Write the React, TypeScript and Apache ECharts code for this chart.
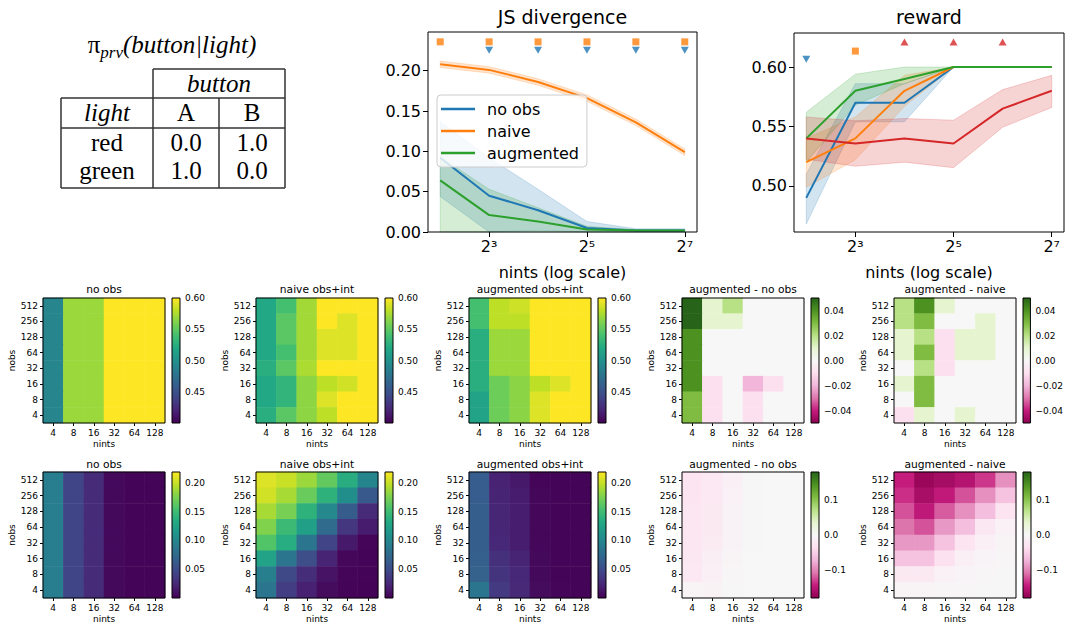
import React, { useEffect, useRef } from "react";
import * as echarts from "echarts";

const FONT = "DejaVu Sans";
const SERIF = "Liberation Serif";

// ---------- shared categories ----------
const nints = [4, 8, 16, 32, 64, 128];
const nintsLabels = ["4", "8", "16", "32", "64", "128"];
const nobsLabels = ["4", "8", "16", "32", "64", "128", "256", "512"];
const logTicks = [8, 32, 128];

// ---------- JS divergence (line plot) ----------
const jsNoObs = [0.092, 0.045, 0.027, 0.005, 0.002, 0.002];
const jsNoObsLo = [0.044, 0.0, 0.002, 0.0, 0.0, 0.0];
const jsNoObsHi = [0.137, 0.092, 0.053, 0.013, 0.004, 0.004];
const jsNaive = [0.208, 0.201, 0.186, 0.166, 0.136, 0.099];
const jsNaiveLo = [0.204, 0.197, 0.182, 0.162, 0.132, 0.095];
const jsNaiveHi = [0.212, 0.205, 0.19, 0.17, 0.14, 0.103];
const jsAug = [0.064, 0.021, 0.013, 0.003, 0.002, 0.002];
const jsAugLo = [0.0, 0.0, 0.0, 0.0, 0.0, 0.0];
const jsAugHi = [0.093, 0.053, 0.03, 0.007, 0.003, 0.003];
const jsNaiveMarkX = [4, 8, 16, 32, 64, 128];
const jsNaiveMarkY = 0.2358;
const jsNoObsMarkX = [8, 16, 32, 64, 128];
const jsNoObsMarkY = 0.2255;
const jsYTicks = [0, 0.05, 0.1, 0.15, 0.2];

// ---------- reward (line plot) ----------
const rwNoObs = [0.49, 0.57, 0.57, 0.6, 0.6, 0.6];
const rwNoObsLo = [0.468, 0.554, 0.554, 0.6, 0.6, 0.6];
const rwNoObsHi = [0.51, 0.586, 0.586, 0.6, 0.6, 0.6];
const rwNaive = [0.52, 0.54, 0.58, 0.6, 0.6, 0.6];
const rwNaiveLo = [0.499, 0.522, 0.567, 0.6, 0.6, 0.6];
const rwNaiveHi = [0.54, 0.558, 0.593, 0.6, 0.6, 0.6];
const rwAug = [0.54, 0.58, 0.59, 0.6, 0.6, 0.6];
const rwAugLo = [0.52, 0.568, 0.586, 0.6, 0.6, 0.6];
const rwAugHi = [0.562, 0.594, 0.6, 0.6, 0.6, 0.6];
const rwRef = [0.54, 0.5357, 0.54, 0.5357, 0.565, 0.58];
const rwRefLo = [0.5225, 0.5166, 0.52, 0.5154, 0.5494, 0.566];
const rwRefHi = [0.558, 0.5548, 0.5567, 0.5553, 0.581, 0.593];
const rwNoObsMarkX = [4];
const rwNoObsMarkY = 0.6065;
const rwNaiveMarkX = [8];
const rwNaiveMarkY = 0.6134;
const rwRefMarkX = [16, 32, 64];
const rwRefMarkY = 0.621;
const rwYTicks = [0.5, 0.55, 0.6];

// ---------- heatmaps: rows listed top (nobs 512) to bottom (nobs 4), columns nints 4..128 ----------
const rewardNoObs = [
  [0.49, 0.57, 0.57, 0.6, 0.6, 0.6],
  [0.49, 0.57, 0.57, 0.6, 0.6, 0.6],
  [0.49, 0.57, 0.57, 0.6, 0.6, 0.6],
  [0.49, 0.57, 0.57, 0.6, 0.6, 0.6],
  [0.49, 0.57, 0.57, 0.6, 0.6, 0.6],
  [0.49, 0.57, 0.57, 0.6, 0.6, 0.6],
  [0.49, 0.57, 0.57, 0.6, 0.6, 0.6],
  [0.49, 0.57, 0.57, 0.6, 0.6, 0.6],
];
const rewardNaive = [
  [0.52, 0.54, 0.572, 0.6, 0.6, 0.6],
  [0.52, 0.548, 0.572, 0.6, 0.59, 0.6],
  [0.52, 0.548, 0.572, 0.59, 0.59, 0.6],
  [0.52, 0.54, 0.572, 0.59, 0.59, 0.6],
  [0.525, 0.548, 0.575, 0.6, 0.6, 0.6],
  [0.52, 0.53, 0.566, 0.58, 0.586, 0.6],
  [0.52, 0.53, 0.566, 0.59, 0.6, 0.6],
  [0.525, 0.548, 0.566, 0.58, 0.6, 0.6],
];
const rewardAug = [
  [0.54, 0.58, 0.585, 0.6, 0.6, 0.6],
  [0.54, 0.58, 0.58, 0.6, 0.6, 0.6],
  [0.525, 0.57, 0.57, 0.6, 0.6, 0.6],
  [0.525, 0.57, 0.57, 0.6, 0.6, 0.6],
  [0.525, 0.57, 0.57, 0.6, 0.6, 0.6],
  [0.525, 0.555, 0.565, 0.58, 0.59, 0.6],
  [0.515, 0.555, 0.565, 0.59, 0.6, 0.6],
  [0.515, 0.555, 0.565, 0.59, 0.6, 0.6],
];
const rewardAugMinusNoObs = [
  [0.05, 0.01, 0.02, 0, 0, 0],
  [0.05, 0.01, 0.01, 0, 0, 0],
  [0.04, 0, 0, 0, 0, 0],
  [0.04, 0, 0, 0, 0, 0],
  [0.04, 0, 0, 0, 0, 0],
  [0.04, -0.01, 0, -0.02, -0.01, 0],
  [0.03, -0.01, 0, -0.01, 0, 0],
  [0.03, -0.01, 0, -0.01, 0, 0],
];
const rewardAugMinusNaive = [
  [0.02, 0.04, 0.01, 0, 0, 0],
  [0.02, 0.03, 0, 0, 0.01, 0],
  [0.01, 0.02, -0.01, 0.01, 0.01, 0],
  [0.01, 0.03, -0.01, 0.01, 0.01, 0],
  [0, 0.02, -0.01, 0, 0, 0],
  [0.01, 0.03, 0, 0, 0, 0],
  [0, 0.03, 0, 0, 0, 0],
  [-0.01, 0.01, 0, 0.01, 0, 0],
];
const jsHmNoObs = [
  [0.092, 0.045, 0.027, 0.005, 0.002, 0.002],
  [0.092, 0.045, 0.027, 0.005, 0.002, 0.002],
  [0.092, 0.045, 0.027, 0.005, 0.002, 0.002],
  [0.092, 0.045, 0.027, 0.005, 0.002, 0.002],
  [0.092, 0.045, 0.027, 0.005, 0.002, 0.002],
  [0.092, 0.045, 0.027, 0.005, 0.002, 0.002],
  [0.092, 0.045, 0.027, 0.005, 0.002, 0.002],
  [0.092, 0.045, 0.027, 0.005, 0.002, 0.002],
];
const jsHmNaive = [
  [0.208, 0.201, 0.186, 0.166, 0.136, 0.099],
  [0.204, 0.19, 0.168, 0.14, 0.107, 0.061],
  [0.19, 0.174, 0.14, 0.102, 0.063, 0.026],
  [0.177, 0.148, 0.124, 0.076, 0.035, 0.017],
  [0.159, 0.135, 0.085, 0.044, 0.015, 0.003],
  [0.126, 0.085, 0.052, 0.022, 0.004, 0.002],
  [0.094, 0.048, 0.028, 0.011, 0.003, 0.002],
  [0.085, 0.039, 0.02, 0.006, 0.002, 0.001],
];
const jsHmAug = [
  [0.064, 0.021, 0.015, 0.003, 0.002, 0.002],
  [0.064, 0.022, 0.017, 0.004, 0.002, 0.002],
  [0.065, 0.023, 0.018, 0.004, 0.002, 0.002],
  [0.065, 0.023, 0.018, 0.004, 0.002, 0.002],
  [0.065, 0.024, 0.018, 0.004, 0.002, 0.002],
  [0.066, 0.03, 0.022, 0.005, 0.002, 0.002],
  [0.068, 0.033, 0.024, 0.005, 0.002, 0.002],
  [0.085, 0.037, 0.025, 0.006, 0.003, 0.002],
];
const jsHmAugMinusNoObs = [
  [-0.028, -0.024, -0.012, -0.002, 0, 0],
  [-0.028, -0.023, -0.01, -0.001, 0, 0],
  [-0.027, -0.022, -0.009, -0.001, 0, 0],
  [-0.027, -0.022, -0.009, -0.001, 0, 0],
  [-0.027, -0.021, -0.009, -0.001, 0, 0],
  [-0.026, -0.015, -0.005, 0, 0, 0],
  [-0.024, -0.012, -0.003, 0, 0, 0],
  [-0.007, -0.008, -0.002, 0, 0, 0],
];
const jsHmAugMinusNaive = [
  [-0.146, -0.175, -0.167, -0.157, -0.135, -0.095],
  [-0.138, -0.164, -0.149, -0.124, -0.095, -0.062],
  [-0.124, -0.15, -0.12, -0.095, -0.065, -0.03],
  [-0.11, -0.124, -0.09, -0.065, -0.025, -0.01],
  [-0.09, -0.09, -0.062, -0.03, -0.012, -0.004],
  [-0.062, -0.062, -0.033, -0.012, -0.006, -0.003],
  [-0.022, -0.022, -0.01, -0.006, -0.003, -0.002],
  [-0.007, -0.007, -0.003, -0.003, -0.002, -0.001],
];
const hmTitles = ["no obs", "naive obs+int", "augmented obs+int", "augmented - no obs", "augmented - naive"];

// colour bar scales
const rwSeqTicks = [0.45, 0.5, 0.55, 0.6];
const rwDivTicks = [-0.04, -0.02, 0, 0.02, 0.04];
const jsSeqTicks = [0.05, 0.1, 0.15, 0.2];
const jsDivTicks = [-0.1, 0, 0.1];

// table
const tableCols = ["A", "B"];
const tableRows = ["red", "green"];
const tableVals = [
  ["0.0", "1.0"],
  ["1.0", "0.0"],
];

const VIRIDIS = ["#440154", "#482475", "#414487", "#355f8d", "#2a788e", "#21918c", "#22a884", "#44bf70", "#7ad151", "#bddf26", "#fde725"];
const PIYG = ["#8e0152", "#c51b7d", "#de77ae", "#f1b6da", "#fde0ef", "#f7f7f7", "#e6f5d0", "#b8e186", "#7fbc41", "#4d9221", "#276419"];

const C_BLUE = "#1f77b4";
const C_ORANGE = "#ff7f0e";
const C_GREEN = "#2ca02c";
const C_RED = "#d62728";

function rgba(hex: string, a: number) {
  const n = parseInt(hex.slice(1), 16);
  return `rgba(${(n >> 16) & 255},${(n >> 8) & 255},${n & 255},${a})`;
}
function fmt(v: number, d: number) {
  const s = Math.abs(v).toFixed(d);
  return (v < -1e-12 ? "\u2212" : "") + s;
}
const SUP: Record<number, string> = { 2: "\u00b2", 3: "\u00b3", 4: "\u2074", 5: "\u2075", 6: "\u2076", 7: "\u2077" };

function buildOption() {
  const grid: any[] = [];
  const xAxis: any[] = [];
  const yAxis: any[] = [];
  const series: any[] = [];
  const graphic: any[] = [];

  // ---- line plots ----
  const linePanels = [
    { left: 428, top: 32, width: 269, height: 200, ymin: 0, ymax: 0.248, ticks: jsYTicks, title: "JS divergence" },
    { left: 794, top: 33, width: 270, height: 199, ymin: 0.4613, ymax: 0.6286, ticks: rwYTicks, title: "reward" },
  ];
  linePanels.forEach((p, i) => {
    grid.push({ left: p.left, top: p.top, width: p.width, height: p.height, show: true, borderColor: "#000", borderWidth: 1, z: 6, backgroundColor: "transparent" });
    xAxis.push({
      type: "log", logBase: 2, gridIndex: i, min: Math.pow(2, 1.75), max: Math.pow(2, 7.25),
      axisLine: { show: false },
      axisTick: { show: true, customValues: logTicks, length: 5, lineStyle: { color: "#000", width: 1 } },
      axisLabel: {
        customValues: logTicks, fontSize: 16, color: "#000", fontFamily: FONT, margin: 6,
        formatter: (v: number) => "2" + (SUP[Math.round(Math.log2(v))] || ""),
      },
      minorTick: { show: false }, splitLine: { show: false },
      name: "nints (log scale)", nameLocation: "middle", nameGap: 32,
      nameTextStyle: { fontSize: 16, color: "#000", fontFamily: FONT },
    });
    yAxis.push({
      type: "value", gridIndex: i, min: p.ymin, max: p.ymax,
      axisLine: { show: false },
      axisTick: { show: true, customValues: p.ticks, length: 5, lineStyle: { color: "#000", width: 1 } },
      axisLabel: { customValues: p.ticks, fontSize: 16, color: "#000", fontFamily: FONT, margin: 7, formatter: (v: number) => v.toFixed(2) },
      splitLine: { show: false },
    });
    graphic.push({
      type: "text", x: p.left + p.width / 2, y: 17, z: 100,
      style: { text: p.title, fontSize: 19, fontFamily: FONT, fill: "#000", align: "center", verticalAlign: "middle" },
    });
  });

  const band = (ax: number, lo: number[], hi: number[], color: string) => ({
    type: "custom", xAxisIndex: ax, yAxisIndex: ax, z: 1, silent: true,
    data: nints.map((x, i) => [x, lo[i], hi[i]]),
    encode: { x: 0, y: [1, 2] },
    itemStyle: { color },
    renderItem: (params: any, api: any) => {
      if (params.dataIndex !== 0) return null;
      const top = nints.map((x, i) => api.coord([x, hi[i]]));
      const bot = nints.map((x, i) => api.coord([x, lo[i]])).reverse();
      return {
        type: "polygon",
        shape: { points: top.concat(bot) },
        style: { fill: rgba(color, 0.2), stroke: rgba(color, 0.2), lineWidth: 1 },
      };
    },
  });
  const line = (ax: number, name: string, ys: number[], color: string) => ({
    type: "line", name, xAxisIndex: ax, yAxisIndex: ax, z: 3, silent: true,
    data: nints.map((x, i) => [x, ys[i]]),
    symbol: "none", showSymbol: false,
    lineStyle: { color, width: 2 }, itemStyle: { color },
  });
  const marks = (ax: number, xs: number[], y: number, color: string, kind: "square" | "down" | "up") => ({
    type: "scatter", xAxisIndex: ax, yAxisIndex: ax, z: 4, silent: true,
    data: xs.map((x) => [x, y]),
    symbol: kind === "square" ? "rect" : "triangle",
    symbolRotate: kind === "down" ? 180 : 0,
    symbolSize: kind === "square" ? 7 : [8, 7],
    itemStyle: { color },
  });

  series.push(band(0, jsNoObsLo, jsNoObsHi, C_BLUE));
  series.push(band(0, jsNaiveLo, jsNaiveHi, C_ORANGE));
  series.push(band(0, jsAugLo, jsAugHi, C_GREEN));
  series.push(line(0, "no obs", jsNoObs, C_BLUE));
  series.push(line(0, "naive", jsNaive, C_ORANGE));
  series.push(line(0, "augmented", jsAug, C_GREEN));
  series.push(marks(0, jsNaiveMarkX, jsNaiveMarkY, C_ORANGE, "square"));
  series.push(marks(0, jsNoObsMarkX, jsNoObsMarkY, C_BLUE, "down"));

  series.push(band(1, rwNoObsLo, rwNoObsHi, C_BLUE));
  series.push(band(1, rwNaiveLo, rwNaiveHi, C_ORANGE));
  series.push(band(1, rwAugLo, rwAugHi, C_GREEN));
  series.push(band(1, rwRefLo, rwRefHi, C_RED));
  series.push(line(1, "no obs", rwNoObs, C_BLUE));
  series.push(line(1, "naive", rwNaive, C_ORANGE));
  series.push(line(1, "augmented", rwAug, C_GREEN));
  series.push(line(1, "reference", rwRef, C_RED));
  series.push(marks(1, rwNoObsMarkX, rwNoObsMarkY, C_BLUE, "down"));
  series.push(marks(1, rwNaiveMarkX, rwNaiveMarkY, C_ORANGE, "square"));
  series.push(marks(1, rwRefMarkX, rwRefMarkY, C_RED, "up"));

  // ---- heatmaps ----
  const hmLefts = [43, 256, 469, 682, 894];
  const rowTops = [298, 472];
  const rowHeights = [125, 126];
  const rowTitleY = [289, 464];
  const mats = [
    [rewardNoObs, rewardNaive, rewardAug, rewardAugMinusNoObs, rewardAugMinusNaive],
    [jsHmNoObs, jsHmNaive, jsHmAug, jsHmAugMinusNoObs, jsHmAugMinusNaive],
  ];
  const scales = [
    [
      { cmap: VIRIDIS, min: 0.4, max: 0.6, ticks: rwSeqTicks, dec: 2 },
      { cmap: PIYG, min: -0.05, max: 0.05, ticks: rwDivTicks, dec: 2 },
    ],
    [
      { cmap: VIRIDIS, min: 0.0, max: 0.219, ticks: jsSeqTicks, dec: 2 },
      { cmap: PIYG, min: -0.182, max: 0.182, ticks: jsDivTicks, dec: 1 },
    ],
  ];
  const vmSeries: number[][] = [[], [], [], []];

  for (let r = 0; r < 2; r++) {
    for (let c = 0; c < 5; c++) {
      const sc = scales[r][c < 3 ? 0 : 1];
      const left = hmLefts[c];
      const top = rowTops[r];
      const h = rowHeights[r];
      // heatmap grid
      const gi = grid.length;
      grid.push({ left, top, width: 122, height: h, show: true, borderColor: "#000", borderWidth: 1, z: 6, backgroundColor: "transparent" });
      xAxis.push({
        type: "category", gridIndex: gi, data: nintsLabels,
        axisLine: { show: false },
        axisTick: { show: true, alignWithLabel: true, length: 3, lineStyle: { color: "#000" } },
        axisLabel: { interval: 0, fontSize: 9, color: "#000", fontFamily: FONT, margin: 5 },
        splitLine: { show: false },
        name: "nints", nameLocation: "middle", nameGap: 16,
        nameTextStyle: { fontSize: 9, color: "#000", fontFamily: FONT },
      });
      yAxis.push({
        type: "category", gridIndex: gi, data: nobsLabels,
        axisLine: { show: false },
        axisTick: { show: true, alignWithLabel: true, length: 3, lineStyle: { color: "#000" } },
        axisLabel: { interval: 0, fontSize: 9, color: "#000", fontFamily: FONT, margin: 5 },
        splitLine: { show: false },
        name: "nobs", nameLocation: "middle", nameGap: 25, nameRotate: 90,
        nameTextStyle: { fontSize: 9, color: "#000", fontFamily: FONT },
      });
      const m = mats[r][c];
      const data: number[][] = [];
      m.forEach((row, ri) => row.forEach((v, ci) => data.push([ci, nobsLabels.length - 1 - ri, v])));
      vmSeries[r * 2 + (c < 3 ? 0 : 1)].push(series.length);
      series.push({
        type: "heatmap", xAxisIndex: gi, yAxisIndex: gi, data, silent: true, z: 2,
        emphasis: { disabled: true }, itemStyle: { borderWidth: 0 },
      });
      graphic.push({
        type: "text", x: left + 61, y: rowTitleY[r], z: 100,
        style: { text: hmTitles[c], fontSize: 10.7, fontFamily: FONT, fill: "#000", align: "center", verticalAlign: "middle" },
      });

      // colour bar
      const ci2 = grid.length;
      grid.push({ left: left + 129, top, width: 8, height: h, show: true, borderColor: "#000", borderWidth: 1, z: 6, backgroundColor: "transparent" });
      xAxis.push({ type: "value", gridIndex: ci2, min: 0, max: 1, show: false });
      yAxis.push({
        type: "value", gridIndex: ci2, min: sc.min, max: sc.max, position: "right",
        axisLine: { show: false },
        axisTick: { show: true, customValues: sc.ticks, length: 3, lineStyle: { color: "#000" } },
        axisLabel: { customValues: sc.ticks, fontSize: 9, color: "#000", fontFamily: FONT, margin: 5, formatter: (v: number) => fmt(v, sc.dec) },
        splitLine: { show: false },
      });
      const stops = sc.cmap.map((col, k) => ({ offset: 1 - k / (sc.cmap.length - 1), color: col })).reverse();
      series.push({
        type: "custom", xAxisIndex: ci2, yAxisIndex: ci2, silent: true, z: 2,
        data: [[0, sc.min, 1, sc.max]],
        encode: { x: [0, 2], y: [1, 3] },
        renderItem: (params: any, api: any) => {
          const p0 = api.coord([0, sc.max]);
          const p1 = api.coord([1, sc.min]);
          return {
            type: "rect",
            shape: { x: p0[0], y: p0[1], width: p1[0] - p0[0], height: p1[1] - p0[1] },
            style: { fill: { type: "linear", x: 0, y: 0, x2: 0, y2: 1, colorStops: stops } },
          };
        },
      });
    }
  }

  const visualMap = [0, 1, 2, 3].map((k) => {
    const sc = scales[Math.floor(k / 2)][k % 2];
    return {
      type: "continuous", show: false, min: sc.min, max: sc.max, dimension: 2,
      seriesIndex: vmSeries[k], inRange: { color: sc.cmap },
    };
  });

  // ---- table ----
  const lineStyle = { stroke: "#333", lineWidth: 1.5 };
  const seg = (x1: number, y1: number, x2: number, y2: number) => ({ type: "line", z: 100, shape: { x1, y1, x2, y2 }, style: lineStyle });
  graphic.push(seg(153, 69, 285, 69));
  graphic.push(seg(61, 98, 285, 98));
  graphic.push(seg(61, 128, 285, 128));
  graphic.push(seg(61, 188, 285, 188));
  graphic.push(seg(153, 69, 153, 188));
  graphic.push(seg(285, 69, 285, 188));
  graphic.push(seg(61, 98, 61, 188));
  graphic.push(seg(219, 98, 219, 188));
  const tText = (text: string, x: number, y: number, italic = false) => ({
    type: "text", x, y, z: 100,
    style: { text, fontSize: 25, fontFamily: SERIF, fontStyle: italic ? "italic" : "normal", fill: "#000", align: "center", verticalAlign: "middle" },
  });
  graphic.push({
    type: "text", x: 172, y: 44, z: 100,
    style: {
      text: "{pi|\u03c0}{sub|prv}{main|(button|light)}",
      align: "center", verticalAlign: "middle", fill: "#000",
      rich: {
        pi: { fontSize: 25, fontFamily: SERIF, lineHeight: 34, fill: "#000" },
        sub: { fontSize: 17, fontFamily: SERIF, fontStyle: "italic", lineHeight: 17, verticalAlign: "bottom", fill: "#000" },
        main: { fontSize: 25, fontFamily: SERIF, fontStyle: "italic", lineHeight: 34, fill: "#000" },
      },
    },
  });
  graphic.push(tText("button", 219, 83, true));
  graphic.push(tText("light", 107, 112, true));
  const colX = [186, 252];
  const rowY = [142, 170];
  tableCols.forEach((t, j) => graphic.push(tText(t, colX[j], 112)));
  tableRows.forEach((t, i) => {
    graphic.push(tText(t, 107, rowY[i]));
    tableVals[i].forEach((v, j) => graphic.push(tText(v, colX[j], rowY[i])));
  });

  return {
    animation: false,
    backgroundColor: "#fff",
    textStyle: { fontFamily: FONT },
    grid, xAxis, yAxis, series, visualMap, graphic,
    legend: {
      data: ["no obs", "naive", "augmented"],
      orient: "vertical", left: 437, top: 95, z: 10,
      icon: "rect", itemWidth: 34, itemHeight: 2.5, itemGap: 6,
      selectedMode: false,
      textStyle: { fontSize: 16, fontFamily: FONT, color: "#000", padding: [0, 0, 0, 7] },
      backgroundColor: "rgba(255,255,255,0.8)", borderColor: "#cccccc", borderWidth: 1, borderRadius: 4,
      padding: [6, 8, 6, 4],
    },
  };
}

export default function App() {
  const ref = useRef<HTMLDivElement>(null);
  useEffect(() => {
    const chart = echarts.init(ref.current!, null, { renderer: "svg" });
    chart.setOption(buildOption() as any);
    return () => chart.dispose();
  }, []);
  return <div ref={ref} style={{ position: "absolute", left: 0, top: 0, width: 1066, height: 627, background: "#fff" }} />;
}
